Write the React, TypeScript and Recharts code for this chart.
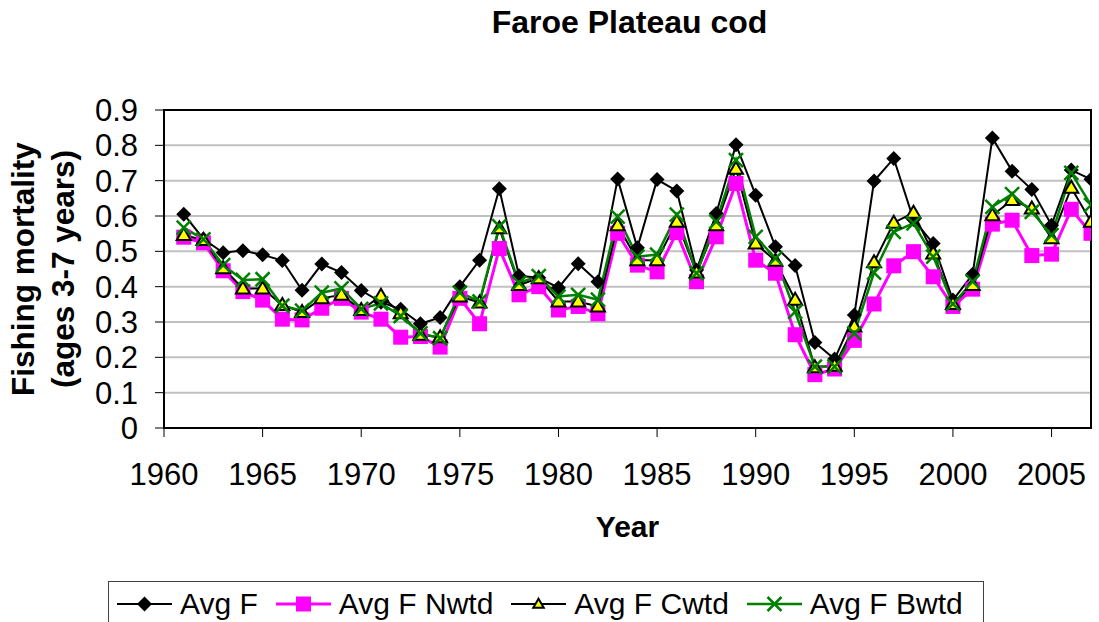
import {
  LineChart,
  Line,
  XAxis,
  YAxis,
  CartesianGrid,
  Legend,
  ReferenceArea,
  Customized,
} from "recharts";

const FONT = '"Liberation Sans", Arial, Helvetica, sans-serif';

// fishing years 1961-2007
const years = [
  1961, 1962, 1963, 1964, 1965, 1966, 1967, 1968, 1969, 1970,
  1971, 1972, 1973, 1974, 1975, 1976, 1977, 1978, 1979, 1980,
  1981, 1982, 1983, 1984, 1985, 1986, 1987, 1988, 1989, 1990,
  1991, 1992, 1993, 1994, 1995, 1996, 1997, 1998, 1999, 2000,
  2001, 2002, 2003, 2004, 2005, 2006, 2007,
];

const avgF = [
  0.605, 0.535, 0.496, 0.502, 0.49, 0.474, 0.39, 0.464, 0.44, 0.389,
  0.356, 0.336, 0.295, 0.313, 0.4, 0.475, 0.677, 0.431, 0.425, 0.397,
  0.465, 0.414, 0.705, 0.51, 0.703, 0.671, 0.447, 0.607, 0.802, 0.659,
  0.513, 0.46, 0.242, 0.195, 0.32, 0.699, 0.763, 0.59, 0.522, 0.362,
  0.435, 0.821, 0.727, 0.675, 0.574, 0.73, 0.704,
];

const avgFNwtd = [
  0.54, 0.524, 0.445, 0.386, 0.362, 0.308, 0.306, 0.339, 0.367, 0.328,
  0.308, 0.257, 0.259, 0.229, 0.367, 0.295, 0.508, 0.377, 0.4, 0.334,
  0.344, 0.323, 0.551, 0.461, 0.442, 0.553, 0.414, 0.541, 0.692, 0.475,
  0.438, 0.264, 0.151, 0.167, 0.248, 0.351, 0.459, 0.499, 0.428, 0.344,
  0.393, 0.577, 0.588, 0.488, 0.492, 0.619, 0.551,
];

const avgFCwtd = [
  0.546, 0.532, 0.452, 0.395, 0.395, 0.348, 0.328, 0.367, 0.377, 0.334,
  0.374, 0.325, 0.264, 0.257, 0.372, 0.355, 0.565, 0.405, 0.424, 0.358,
  0.358, 0.344, 0.574, 0.475, 0.475, 0.584, 0.44, 0.574, 0.734, 0.522,
  0.473, 0.363, 0.172, 0.176, 0.287, 0.469, 0.581, 0.609, 0.494, 0.351,
  0.405, 0.602, 0.645, 0.621, 0.537, 0.68, 0.584,
];

const avgFBwtd = [
  0.567, 0.534, 0.461, 0.419, 0.421, 0.346, 0.332, 0.383, 0.395, 0.337,
  0.353, 0.317, 0.268, 0.254, 0.383, 0.358, 0.571, 0.411, 0.43, 0.372,
  0.377, 0.363, 0.598, 0.485, 0.491, 0.604, 0.438, 0.584, 0.758, 0.541,
  0.48, 0.329, 0.174, 0.174, 0.268, 0.44, 0.555, 0.579, 0.485, 0.351,
  0.414, 0.626, 0.662, 0.612, 0.546, 0.722, 0.631,
];

const xTicks = [1960, 1965, 1970, 1975, 1980, 1985, 1990, 1995, 2000, 2005];
const yTicks = [0, 0.1, 0.2, 0.3, 0.4, 0.5, 0.6, 0.7, 0.8, 0.9];

const chartData = years.map((year, i) => ({
  year,
  avgF: avgF[i],
  nwtd: avgFNwtd[i],
  cwtd: avgFCwtd[i],
  bwtd: avgFBwtd[i],
}));

type Shape = "diamond" | "square" | "triangle" | "cross";

const seriesList: { key: string; name: string; color: string; width: number; shape: Shape }[] = [
  { key: "avgF", name: "Avg F", color: "#000000", width: 2, shape: "diamond" },
  { key: "nwtd", name: "Avg F Nwtd", color: "#ff00ff", width: 3, shape: "square" },
  { key: "cwtd", name: "Avg F Cwtd", color: "#000000", width: 2, shape: "triangle" },
  { key: "bwtd", name: "Avg F Bwtd", color: "#008000", width: 2.5, shape: "cross" },
];

function marker(shape: Shape, cx: number, cy: number, key?: string, scale = 1) {
  if (cx == null || cy == null) return <g key={key} />;
  if (shape === "diamond") {
    const r = 7.5 * scale;
    return (
      <path key={key} d={`M${cx},${cy - r}L${cx + r},${cy}L${cx},${cy + r}L${cx - r},${cy}Z`} fill="#000" />
    );
  }
  if (shape === "square") {
    const s = 7.5 * scale;
    return <rect key={key} x={cx - s} y={cy - s} width={2 * s} height={2 * s} fill="#ff00ff" />;
  }
  if (shape === "triangle") {
    const w = 7 * scale;
    return (
      <path
        key={key}
        d={`M${cx},${cy - 7 * scale}L${cx + w},${cy + 5 * scale}L${cx - w},${cy + 5 * scale}Z`}
        fill="#ffff00"
        stroke="#000"
        strokeWidth={2}
      />
    );
  }
  const c = 7 * scale;
  return (
    <path
      key={key}
      d={`M${cx - c},${cy - c}L${cx + c},${cy + c}M${cx + c},${cy - c}L${cx - c},${cy + c}`}
      stroke="#008000"
      strokeWidth={2.5}
      fill="none"
    />
  );
}

// keep the series order (Avg F, Nwtd, Cwtd, Bwtd) instead of the sorted payload
const renderLegend = () => (
  <div
    style={{
      border: "1px solid #404040",
      height: 60,
      boxSizing: "border-box",
      paddingTop: 4,
      paddingLeft: 8,
      display: "flex",
      fontFamily: FONT,
      fontSize: 30,
      color: "#000",
      background: "#fff",
    }}
  >
    {seriesList.map((s) => (
      <div key={s.key} style={{ display: "flex", alignItems: "center", height: 36, marginRight: 18 }}>
        <svg width={55} height={20} style={{ display: "block" }}>
          <line x1={0} y1={10} x2={55} y2={10} stroke={s.color} strokeWidth={s.width} />
          {marker(s.shape, 27.5, 10, undefined, s.shape === "triangle" ? 0.75 : 1)}
        </svg>
        <span style={{ marginLeft: 8, lineHeight: "36px", whiteSpace: "nowrap" }}>{s.name}</span>
      </div>
    ))}
  </div>
);

const renderYLabel = (props: any) => {
  const vb = props.viewBox || { y: 110, height: 318 };
  const cy = vb.y + vb.height / 2;
  const style = { fontFamily: FONT, fontSize: 31.5, fontWeight: "bold" as const, fill: "#000" };
  return (
    <g>
      <text x={34} y={cy} textAnchor="middle" transform={`rotate(-90, 34, ${cy})`} {...style}>
        Fishing mortality
      </text>
      <text x={74} y={cy} textAnchor="middle" transform={`rotate(-90, 74, ${cy})`} {...style}>
        (ages 3-7 years)
      </text>
    </g>
  );
};

const Title = () => (
  <text x={629.5} y={33} textAnchor="middle" fontFamily={FONT} fontSize={32} fontWeight="bold" fill="#000">
    Faroe Plateau cod
  </text>
);

export default function App() {
  return (
    <div style={{ position: "absolute", left: 0, top: 0, width: 1099, height: 622, background: "#fff" }}>
      <LineChart
        width={1099}
        height={622}
        data={chartData}
        margin={{ top: 110, right: 8, left: 0, bottom: 84 }}
      >
        <CartesianGrid vertical={false} stroke="#c0c0c0" strokeWidth={2} />
        <ReferenceArea x1={1960} x2={2007} y1={0} y2={0.9} fill="none" stroke="#000" strokeWidth={2} />
        <XAxis
          dataKey="year"
          type="number"
          domain={[1960, 2007]}
          ticks={xTicks}
          interval={0}
          allowDataOverflow
          height={110}
          tickSize={9}
          tickMargin={26}
          axisLine={{ stroke: "#000", strokeWidth: 2 }}
          tickLine={{ stroke: "#000", strokeWidth: 1 }}
          tick={{ fontFamily: FONT, fontSize: 31, fill: "#000" }}
          label={{
            value: "Year",
            position: "insideBottom",
            offset: 1,
            style: { fontFamily: FONT, fontSize: 30, fontWeight: "bold", fill: "#000" },
          }}
        />
        <YAxis
          type="number"
          domain={[0, 0.9]}
          ticks={yTicks}
          interval={0}
          allowDataOverflow
          width={164}
          tickSize={9}
          tickMargin={17}
          tickFormatter={(v) => String(v)}
          axisLine={{ stroke: "#000", strokeWidth: 2 }}
          tickLine={{ stroke: "#000", strokeWidth: 1 }}
          tick={{ fontFamily: FONT, fontSize: 31, fill: "#000" }}
          label={{ content: renderYLabel }}
        />
        <Legend
          layout="horizontal"
          verticalAlign="middle"
          align="center"
          content={renderLegend}
          wrapperStyle={{ left: 108, top: 581, width: 876, height: 60 }}
        />
        {seriesList.map((s) => (
          <Line
            key={s.key}
            dataKey={s.key}
            name={s.name}
            type="linear"
            stroke={s.color}
            strokeWidth={s.width}
            isAnimationActive={false}
            activeDot={false}
            dot={(p: any) => marker(s.shape, p.cx, p.cy, `${s.key}-${p.index}`)}
          />
        ))}
        <Customized component={Title} />
      </LineChart>
    </div>
  );
}
